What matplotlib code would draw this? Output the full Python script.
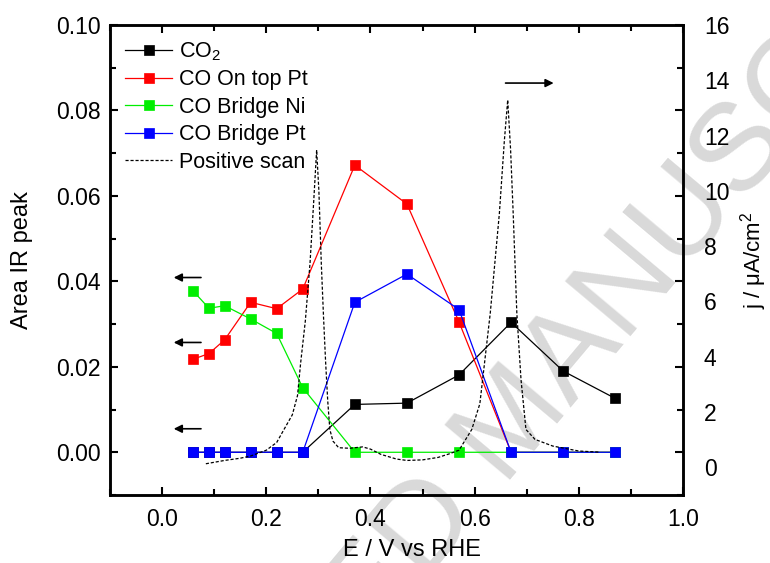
import matplotlib
matplotlib.use("Agg")
import matplotlib.pyplot as plt
from matplotlib.ticker import MultipleLocator, FormatStrFormatter

plt.rcParams['font.family'] = ['Liberation Sans', 'DejaVu Sans']
plt.rcParams['mathtext.fontset'] = 'custom'
plt.rcParams['mathtext.rm'] = 'Liberation Sans'
plt.rcParams['mathtext.it'] = 'Liberation Sans'

# ---- data ----
potential = [0.06, 0.09, 0.12, 0.17, 0.22, 0.27, 0.37, 0.47, 0.57, 0.67, 0.77, 0.87]
co2 = [0, 0, 0, 0, 0, 0, 0.0112, 0.0115, 0.0181, 0.0304, 0.0190, 0.0126]
co_top_pt = [0.0218, 0.0231, 0.0263, 0.0351, 0.0336, 0.0382, 0.0672, 0.0581, 0.0305, 0, 0, 0]
co_bridge_ni = [0.0377, 0.0337, 0.0343, 0.0312, 0.0278, 0.0151, 0, 0, 0, 0, 0, 0]
co_bridge_pt = [0, 0, 0, 0, 0, 0, 0.0351, 0.0417, 0.0334, 0, 0, 0]

scan_E = [0.084, 0.12, 0.15, 0.17, 0.20, 0.22, 0.234, 0.25, 0.26, 0.266, 0.275, 0.284,
          0.291, 0.2967, 0.301, 0.3056, 0.31, 0.314, 0.318, 0.322, 0.328, 0.339, 0.36,
          0.385, 0.40, 0.42, 0.45, 0.47, 0.50, 0.53, 0.55, 0.57, 0.5945, 0.61, 0.63,
          0.6475, 0.657, 0.6635, 0.669, 0.674, 0.681, 0.689, 0.6985, 0.716, 0.75, 0.80, 0.84]
scan_j = [0.13, 0.25, 0.33, 0.41, 0.62, 0.9, 1.37, 1.9, 2.6, 3.78, 5.3, 7.39,
          9.6, 11.48, 10.0, 7.39, 5.4, 3.78, 2.4, 1.37, 0.95, 0.71, 0.69,
          0.74, 0.66, 0.47, 0.30, 0.25, 0.27, 0.36, 0.48, 0.62, 1.37, 2.3, 5.58,
          9.19, 11.8, 13.29, 11.5, 9.19, 5.58, 3.18, 1.37, 1.01, 0.77, 0.59, 0.55]

fig = plt.figure(figsize=(7.7, 5.63), dpi=100)
ax = fig.add_axes([110/770, 1 - 495/563, (683-110)/770, (495-25)/563])
ax2 = ax.twinx()

# watermark (partially visible, as in the reference)
ax.text(0.707, 0.15, "ACCEPTED MANUSCRIPT", transform=ax.transAxes, rotation=50,
        fontsize=90, color='#d9d9d9', ha='center', va='center', zorder=0.5,
        clip_on=False)

ms = 7
kw = dict(marker='s', markersize=ms, linewidth=0.9, markeredgewidth=0.5)
ax.plot(potential, co2, color='black', label='CO$_2$', **kw)
ax.plot(potential, co_top_pt, color='#ff0000', label='CO On top Pt', **kw)
ax.plot(potential, co_bridge_ni, color='#00ee00', label='CO Bridge Ni', **kw)
ax.plot(potential, co_bridge_pt, color='#0000ff', label='CO Bridge Pt', **kw)
scan_line, = ax2.plot(scan_E, scan_j, color='black', linestyle=(0, (2.5, 1.5)),
                      linewidth=0.9, label='Positive scan')

ax.set_xlim(-0.1, 1.0)
ax.set_ylim(-0.01, 0.10)
ax2.set_ylim(-1, 16)

ax.xaxis.set_major_locator(MultipleLocator(0.2))
ax.xaxis.set_minor_locator(MultipleLocator(0.1))
ax.yaxis.set_major_locator(MultipleLocator(0.02))
ax.yaxis.set_minor_locator(MultipleLocator(0.01))
ax2.yaxis.set_major_locator(MultipleLocator(2))
ax.xaxis.set_major_formatter(FormatStrFormatter('%.1f'))
ax.yaxis.set_major_formatter(FormatStrFormatter('%.2f'))
ax2.yaxis.set_major_formatter(FormatStrFormatter('%d'))

fs_tick = 16.5
ax.tick_params(axis='x', which='both', direction='in', top=True, labelsize=fs_tick,
               width=1.5, pad=9)
ax.tick_params(axis='y', which='both', direction='in', right=True, labelright=False,
               labelsize=fs_tick, width=1.5, pad=7)
ax.tick_params(which='major', length=6)
ax.tick_params(which='minor', length=4)
ax2.tick_params(axis='y', which='both', direction='in', labelsize=fs_tick, length=0, pad=15)
for a in (ax, ax2):
    for s in a.spines.values():
        s.set_linewidth(1.8)

ax.set_xlabel('E / V vs RHE', fontsize=17, va='center')
ax.xaxis.set_label_coords(0.527, -0.117)
ax.set_ylabel('Area IR peak', fontsize=17, labelpad=16)
ax2.set_ylabel('j / \u03bcA/cm$^2$', fontsize=16, labelpad=6)

# arrows
arrow_kw = dict(arrowstyle='-|>', color='black', lw=1.2, mutation_scale=12)
for yv in (0.0409, 0.0257, 0.0055):
    ax.annotate('', xy=(0.017, yv), xytext=(0.08, yv), arrowprops=arrow_kw)
ax2.annotate('', xy=(0.757, 13.9), xytext=(0.654, 13.9), arrowprops=arrow_kw)

handles, labels = ax.get_legend_handles_labels()
handles.append(scan_line)
labels.append('Positive scan')
leg = ax.legend(handles, labels, loc='upper left', frameon=False, fontsize=15.5,
                handlelength=2.2, handletextpad=0.3, labelspacing=0.3,
                borderaxespad=0.3, bbox_to_anchor=(0.0, 1.0))

fig.savefig('out.png', dpi=100)
